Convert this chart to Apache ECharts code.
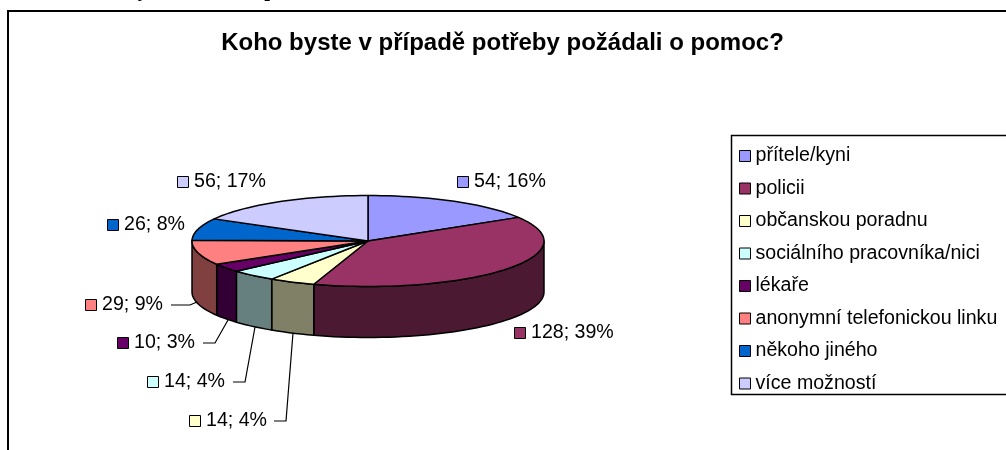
<!DOCTYPE html>
<html><head><meta charset="utf-8">
<style>html,body{margin:0;padding:0;background:#fff}#c{width:1006px;height:450px}</style>
<script src="https://cdn.jsdelivr.net/npm/echarts@6/dist/echarts.min.js"></script>
</head><body><div id="c"></div>
<script>
const categories = ['přítele/kyni','policii','občanskou poradnu','sociálního pracovníka/nici','lékaře','anonymní telefonickou linku','někoho jiného','více možností'];
const values = [54,128,14,14,10,29,26,56];
const topColors = ['#9999FF','#993366','#FFFFCC','#CCFFFF','#660066','#FF8080','#0066CC','#CCCCFF'];
const wallColors = ['#4C4C80','#4C1933','#808066','#668080','#330033','#804040','#003366','#666680'];
const FONT = '"Liberation Sans", Arial, sans-serif';
const cx=368, cy=241, rx=176, ry=45.5, depth=51;
const labelBoxes = [[457,182],[514,333],[189,421],[147,382],[117,343],[85,305],[107,225],[177,182]];
const leaders = [null,null,[[274,421],[286,421],[293,333]],[[233,382],[245,382],[255,327]],[[203,343],[215,343],[228,320]],[[171,305],[190,305],[197,302]],null,null];
const total = values.reduce((a,b)=>a+b,0);
const starts=[]; let acc=0; values.forEach(v=>{starts.push(acc);acc+=v;});
const pt=(a,dy=0)=>[cx+rx*Math.sin(a),cy-ry*Math.cos(a)+dy];
function arc(a0,a1,dy){const n=Math.max(2,Math.ceil((a1-a0)/0.04));const p=[];for(let i=0;i<=n;i++)p.push(pt(a0+(a1-a0)*i/n,dy));return p;}
const line={stroke:'#000',lineWidth:1.5,lineJoin:'round'};
function render(i){
  return function(){
    const a0=starts[i]/total*2*Math.PI, a1=(starts[i]+values[i])/total*2*Math.PI;
    const children=[];
    const w0=Math.max(a0,Math.PI/2), w1=Math.min(a1,1.5*Math.PI);
    if(w1>w0){
      const t=arc(w0,w1,0), b=arc(w0,w1,depth).reverse();
      children.push({type:'polygon',z2:1,shape:{points:t.concat(b)},style:Object.assign({fill:wallColors[i]},line)});
    }
    children.push({type:'polygon',z2:2,shape:{points:[[cx,cy]].concat(arc(a0,a1,0))},style:Object.assign({fill:topColors[i]},line)});
    const lb=labelBoxes[i];
    children.push({type:'rect',z2:3,shape:{x:lb[0]+.5,y:lb[1]-5.5,width:11,height:11},style:{fill:topColors[i],stroke:'#000',lineWidth:1}});
    children.push({type:'text',z2:3,style:{x:lb[0]+17,y:lb[1],text:values[i]+'; '+Math.round(values[i]/total*100)+'%',font:'19.6px '+FONT,fill:'#000',textVerticalAlign:'middle',textBaseline:'middle'}});
    if(leaders[i])children.push({type:'polyline',z2:3,shape:{points:leaders[i]},style:{stroke:'#000',lineWidth:1.2,fill:null}});
    return {type:'group',children};
  };
}
const chart=echarts.init(document.getElementById('c'),null,{renderer:'canvas'});
chart.setOption({
  animation:false,
  backgroundColor:'#fff',
  title:{text:'Koho byste v případě potřeby požádali o pomoc?',left:497.5,top:26,textAlign:'center',textStyle:{fontFamily:FONT,fontSize:24,fontWeight:'bold',color:'#000'}},
  legend:{orient:'vertical',left:734,top:141,itemWidth:11,itemHeight:11,itemGap:12.5,icon:'rect',selectedMode:false,
    data:categories,textStyle:{fontFamily:FONT,fontSize:19.6,color:'#000'},
    itemStyle:{borderColor:'#000',borderWidth:1}},
  graphic:[
    {type:'polyline',silent:true,z:-1,shape:{points:[[8,450],[8,11],[1006,11]]},style:{stroke:'#000',lineWidth:2,fill:null}},
    {type:'rect',silent:true,z:-1,shape:{x:731.5,y:135.5,width:290,height:259},style:{stroke:'#000',lineWidth:1.5,fill:'#fff'}},
    {type:'text',silent:true,style:{x:143,y:-9,text:'y',font:'bold 21px "Liberation Serif", serif',fill:'#000',align:'center',verticalAlign:'middle'}},
    {type:'text',silent:true,style:{x:270,y:-9,text:'p',font:'bold 21px "Liberation Serif", serif',fill:'#000',align:'center',verticalAlign:'middle'}}
  ],
  series:categories.map((name,i)=>({type:'custom',name,coordinateSystem:'none',silent:true,
    itemStyle:{color:topColors[i],borderColor:'#000',borderWidth:1},
    z:2,data:[values[i]],renderItem:render(i)}))
});
</script></body></html>
